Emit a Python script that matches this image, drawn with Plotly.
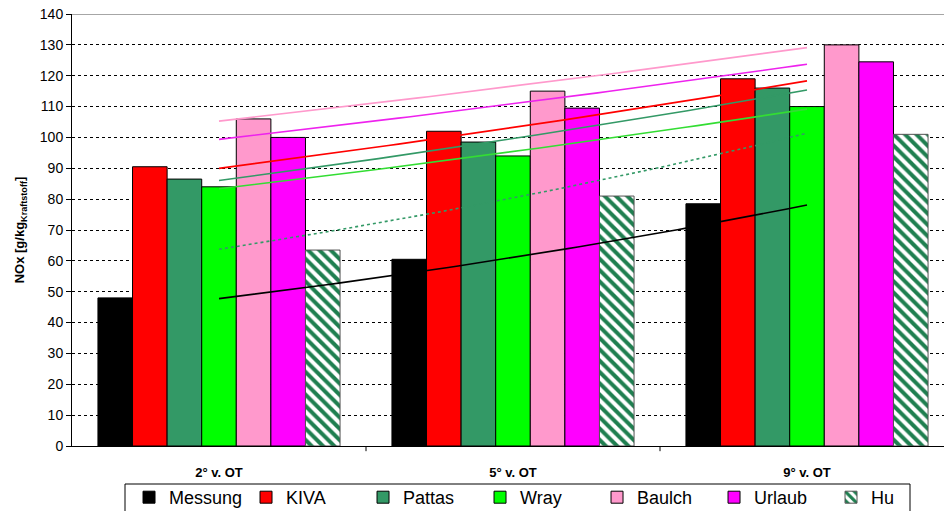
import numpy as np
import plotly.graph_objects as go

categories = ["2° v. OT", "5° v. OT", "9° v. OT"]
series_names = ["Messung", "KIVA", "Pattas", "Wray", "Baulch", "Urlaub", "Hu"]
messung = [48.0, 60.5, 78.5]
kiva = [90.5, 102.0, 119.0]
pattas = [86.5, 98.5, 116.0]
wray = [84.0, 94.0, 110.0]
baulch = [106.0, 115.0, 130.0]
urlaub = [100.0, 109.5, 124.5]
hu = [63.5, 81.0, 101.0]

values = [messung, kiva, pattas, wray, baulch, urlaub, hu]
bar_colors = ["#000000", "#FF0000", "#339966", "#00FF00", "#FF99CC", "#FF00FF", "#FFFFFF"]
trend_colors = ["#000000", "#FF0000", "#339966", "#33DD33", "#FF99CC", "#EE22EE", "#339966"]

xpos = np.arange(len(categories))
fig = go.Figure()

for name, vals, col in zip(series_names, values, bar_colors):
    marker = dict(color=col, line=dict(color="#000000", width=1))
    if name == "Hu":
        marker = dict(color="#FFFFFF", line=dict(color="#555555", width=1),
                      pattern=dict(shape="\\", fgcolor="#1F7F50", fgopacity=1,
                                   bgcolor="#FFFFFF", size=8, solidity=0.5))
    fig.add_trace(go.Bar(x=xpos, y=vals, name=name, marker=marker))

# exponential trendlines through each series
xs = np.linspace(0, 2, 60)
for name, vals, col in zip(series_names, values, trend_colors):
    b, a = np.polyfit(xpos, np.log(vals), 1)
    ys = np.exp(a + b * xs)
    fig.add_trace(go.Scatter(x=xs, y=ys, mode="lines", showlegend=False,
                             hoverinfo="skip",
                             line=dict(color=col, width=1.6,
                                       dash="dot" if name == "Hu" else "solid")))

fig.update_layout(
    width=944, height=511,
    margin=dict(l=72, r=0, t=14, b=65, autoexpand=False),
    plot_bgcolor="#FFFFFF", paper_bgcolor="#FFFFFF",
    barmode="group", bargap=0.1765, bargroupgap=0,
    font=dict(family="Liberation Sans, Arial, sans-serif", color="#000000"),
    legend=dict(orientation="h", x=0.535, xanchor="center",
                yref="container", y=1 - 479 / 511, yanchor="top",
                font=dict(size=18), borderwidth=0, bgcolor="rgba(0,0,0,0)",
                itemwidth=30, entrywidthmode="pixels", entrywidth=72,
                traceorder="normal"),
    xaxis=dict(range=[-0.5, -0.5 + 872 / 294], tickmode="array", tickvals=list(xpos),
               ticktext=categories, showgrid=False, zeroline=False,
               showline=True, linecolor="#000000", linewidth=1,
               tickfont=dict(size=13, family="Liberation Sans, Arial", weight="bold"),
               ticks="", ticklabelstandoff=14),
    yaxis=dict(range=[0, 140], dtick=10, showline=True, linecolor="#000000", linewidth=1,
               ticks="outside", ticklen=5, tickcolor="#000000",
               tickfont=dict(size=14),
               showgrid=True, gridcolor="#000000", griddash="dot", gridwidth=1,
               zeroline=False,
               title=dict(text="<b>NOx [g/kg<sub>Kraftstoff</sub>]</b>", font=dict(size=13),
                          standoff=12)),
)

# category separators along the x axis
for xb in [0.5, 1.5]:
    fig.add_shape(type="line", xref="x", yref="paper", x0=xb, x1=xb, y0=0, y1=-0.012,
                  line=dict(color="#000000", width=1))
# solid top border line at 140
fig.add_shape(type="line", xref="paper", yref="y", x0=0, x1=1, y0=140, y1=140,
              line=dict(color="#888888", width=1.5))
# frame around the legend entries
fig.add_shape(type="rect", xref="paper", yref="paper",
              x0=(125 - 72) / 872, x1=(910 - 72) / 872,
              y0=(446 - 484) / 432, y1=(446 - 520) / 432,
              line=dict(color="#000000", width=1), layer="below")

fig.write_html("out.html")
